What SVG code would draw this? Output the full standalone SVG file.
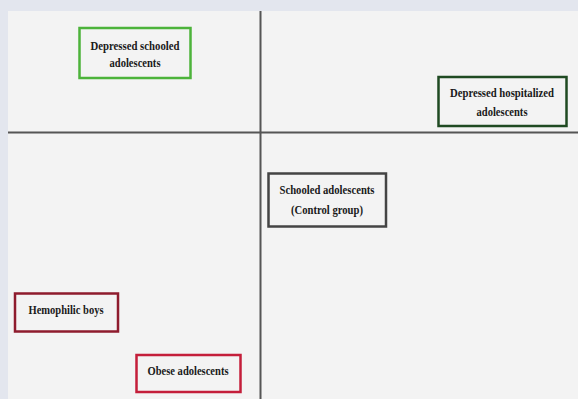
<svg xmlns="http://www.w3.org/2000/svg" width="578" height="399" viewBox="0 0 578 399">
<style>
.box{fill:#f3f3f3;stroke-width:2.5}
.t{font-family:"Liberation Serif","Times New Roman",serif;font-weight:bold;font-size:12.5px;fill:#1a1a1a;text-anchor:middle}
.ax{stroke:#555;stroke-width:2;fill:none}
</style>
<rect x="0" y="0" width="578" height="399" fill="#e3e6ee"/>
<rect x="8" y="11" width="570" height="388" fill="#f3f3f3"/>
<g id="connectors">
<line class="ax" x1="260.5" y1="11" x2="260.5" y2="399"/>
<line class="ax" x1="8" y1="132.5" x2="578" y2="132.5"/>
</g>
<g id="depressed-schooled">
<rect class="box" x="79.5" y="28" width="111" height="50" stroke="#4cb33a"/>
<text class="t" x="135" y="50" textLength="89" lengthAdjust="spacingAndGlyphs">Depressed schooled</text>
<text class="t" x="135" y="67" textLength="51" lengthAdjust="spacingAndGlyphs">adolescents</text>
</g>
<g id="depressed-hospitalized">
<rect class="box" x="438.5" y="77" width="128" height="49" stroke="#1f4a22"/>
<text class="t" x="502" y="97" textLength="104" lengthAdjust="spacingAndGlyphs">Depressed hospitalized</text>
<text class="t" x="502" y="115.5" textLength="51" lengthAdjust="spacingAndGlyphs">adolescents</text>
</g>
<g id="schooled-control">
<rect class="box" x="268.5" y="173.5" width="117.5" height="53" stroke="#444"/>
<text class="t" x="327" y="194" textLength="95" lengthAdjust="spacingAndGlyphs">Schooled adolescents</text>
<text class="t" x="327" y="213.5" textLength="72" lengthAdjust="spacingAndGlyphs">(Control group)</text>
</g>
<g id="hemophilic">
<rect class="box" x="15" y="293.5" width="103" height="38" stroke="#8e1b2d"/>
<text class="t" x="66" y="314" textLength="75" lengthAdjust="spacingAndGlyphs">Hemophilic boys</text>
</g>
<g id="obese">
<rect class="box" x="136.5" y="355" width="104" height="37" stroke="#c41e3a"/>
<text class="t" x="188" y="375" textLength="81" lengthAdjust="spacingAndGlyphs">Obese adolescents</text>
</g>
</svg>
